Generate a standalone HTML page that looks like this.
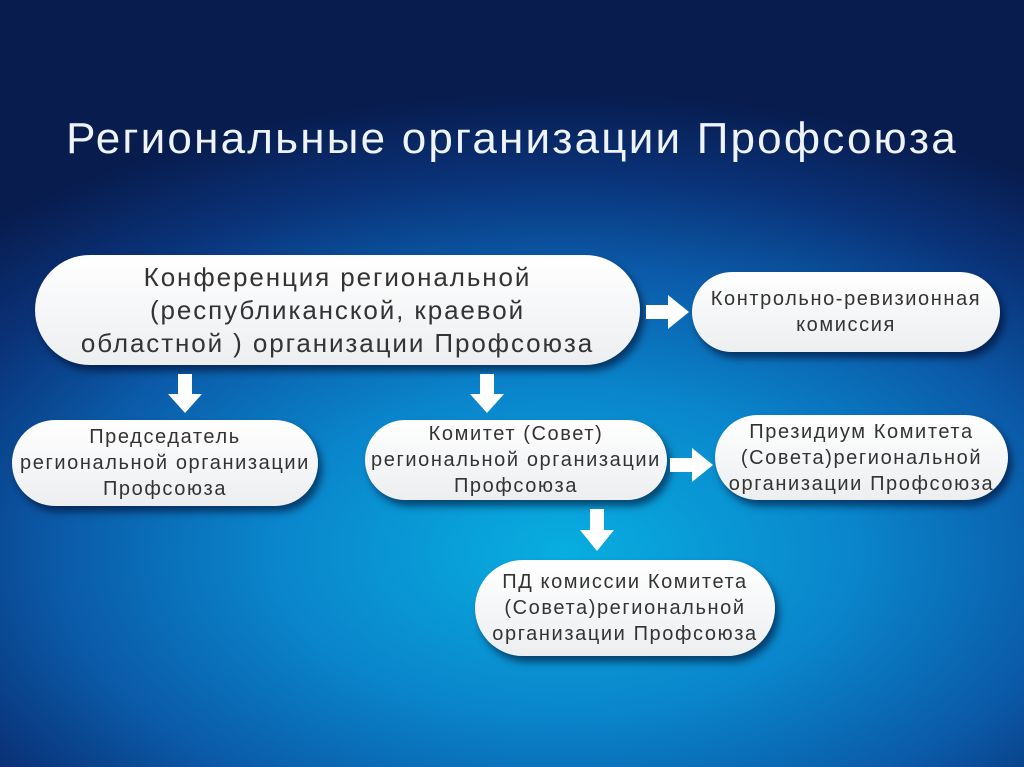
<!DOCTYPE html>
<html><head><meta charset="utf-8"><style>
html,body{margin:0;padding:0}
body{width:1024px;height:767px;overflow:hidden;position:relative;font-family:"Liberation Sans","DejaVu Sans",sans-serif;
background:radial-gradient(ellipse 80% 60% at 55% 72%,#08aee0 0%,#0a86cc 35%,#0b5aa8 62%,#0a3278 82%,#081c4e 100%);}
.t{position:absolute;left:0;width:1024px;top:114px;text-align:center;color:#eef3f8;font-size:44px;letter-spacing:2.2px;white-space:nowrap}
.b{position:absolute;background:linear-gradient(#ffffff,#eceef0);border-radius:999px;box-shadow:4px 6px 8px rgba(0,0,30,.55);display:flex;align-items:center;justify-content:center;text-align:center;color:#333;font-size:20px;letter-spacing:1.6px;line-height:26px;white-space:nowrap}
svg{position:absolute;left:0;top:0}
</style></head><body>
<div class="t">Региональные организации Профсоюза</div>
<div class="b" style="left:35px;top:255px;width:605px;height:110px;font-size:26px;letter-spacing:1.9px;line-height:33px">Конференция региональной<br>(республиканской, краевой<br>областной ) организации Профсоюза</div>
<div class="b" style="left:692px;top:272px;width:308px;height:80px">Контрольно-ревизионная<br>комиссия</div>
<div class="b" style="left:12px;top:420px;width:306px;height:86px">Председатель<br>региональной организации<br>Профсоюза</div>
<div class="b" style="left:365px;top:420px;width:302px;height:80px">Комитет (Совет)<br>региональной организации<br>Профсоюза</div>
<div class="b" style="left:715px;top:415px;width:293px;height:85px">Президиум Комитета<br>(Совета)региональной<br>организации Профсоюза</div>
<div class="b" style="left:475px;top:560px;width:300px;height:96px">ПД комиссии Комитета<br>(Совета)региональной<br>организации Профсоюза</div>
<svg width="1024" height="767" fill="#fff">
<polygon points="178,374 192,374 192,394 202,394 185,413 168,394 178,394"/>
<polygon points="480,374 494,374 494,394 504,394 487,413 470,394 480,394"/>
<polygon points="590,509 604,509 604,530 614,530 597,551 580,530 590,530"/>
<polygon points="646,305 668,305 668,295 689,312 668,329 668,319 646,319"/>
<polygon points="670,458 692,458 692,448 713,465 692,482 692,472 670,472"/>
</svg>
</body></html>
